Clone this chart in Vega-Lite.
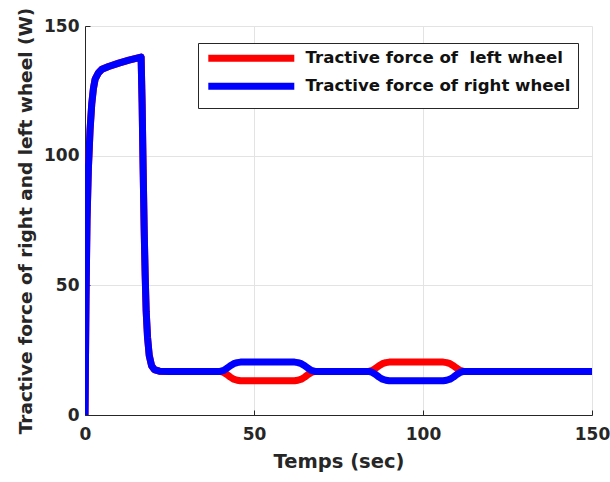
{
  "$schema": "https://vega.github.io/schema/vega-lite/v6.json",
  "width": 507,
  "height": 389,
  "autosize": {"type": "none"},
  "padding": {"left": 85, "top": 26, "right": 18, "bottom": 67},
  "background": "white",
  "config": {
    "view": {"stroke": null},
    "font": "DejaVu Sans",
    "axis": {
      "labelFont": "DejaVu Sans",
      "labelFontWeight": "bold",
      "labelFontSize": 17,
      "labelColor": "#262626",
      "labelFlush": false,
      "titleFont": "DejaVu Sans",
      "titleFontWeight": "bold",
      "titleFontSize": 18,
      "titleColor": "#262626",
      "domainColor": "#262626",
      "domainWidth": 1,
      "tickColor": "#262626",
      "tickSize": -5,
      "gridColor": "#e3e3e3",
      "gridWidth": 1
    }
  },
  "data": {
    "values": [
      {"t": 0, "v": 0, "s": "Tractive force of \u00a0left wheel"},
      {"t": 0.3, "v": 45, "s": "Tractive force of \u00a0left wheel"},
      {"t": 0.6, "v": 75, "s": "Tractive force of \u00a0left wheel"},
      {"t": 1, "v": 95, "s": "Tractive force of \u00a0left wheel"},
      {"t": 1.5, "v": 110, "s": "Tractive force of \u00a0left wheel"},
      {"t": 2, "v": 120, "s": "Tractive force of \u00a0left wheel"},
      {"t": 2.5, "v": 126, "s": "Tractive force of \u00a0left wheel"},
      {"t": 3, "v": 129.5, "s": "Tractive force of \u00a0left wheel"},
      {"t": 4, "v": 132, "s": "Tractive force of \u00a0left wheel"},
      {"t": 5, "v": 133.3, "s": "Tractive force of \u00a0left wheel"},
      {"t": 7, "v": 134.4, "s": "Tractive force of \u00a0left wheel"},
      {"t": 10, "v": 135.7, "s": "Tractive force of \u00a0left wheel"},
      {"t": 13, "v": 136.8, "s": "Tractive force of \u00a0left wheel"},
      {"t": 16, "v": 137.8, "s": "Tractive force of \u00a0left wheel"},
      {"t": 16.6, "v": 138, "s": "Tractive force of \u00a0left wheel"},
      {"t": 16.9, "v": 120, "s": "Tractive force of \u00a0left wheel"},
      {"t": 17.2, "v": 95, "s": "Tractive force of \u00a0left wheel"},
      {"t": 17.5, "v": 72, "s": "Tractive force of \u00a0left wheel"},
      {"t": 17.8, "v": 54, "s": "Tractive force of \u00a0left wheel"},
      {"t": 18.1, "v": 40, "s": "Tractive force of \u00a0left wheel"},
      {"t": 18.5, "v": 30, "s": "Tractive force of \u00a0left wheel"},
      {"t": 19, "v": 23, "s": "Tractive force of \u00a0left wheel"},
      {"t": 19.7, "v": 19, "s": "Tractive force of \u00a0left wheel"},
      {"t": 20.5, "v": 17.5, "s": "Tractive force of \u00a0left wheel"},
      {"t": 22, "v": 16.9, "s": "Tractive force of \u00a0left wheel"},
      {"t": 25, "v": 16.8, "s": "Tractive force of \u00a0left wheel"},
      {"t": 40, "v": 16.8, "s": "Tractive force of \u00a0left wheel"},
      {"t": 41, "v": 16.4, "s": "Tractive force of \u00a0left wheel"},
      {"t": 42, "v": 15.6, "s": "Tractive force of \u00a0left wheel"},
      {"t": 43, "v": 14.6, "s": "Tractive force of \u00a0left wheel"},
      {"t": 44, "v": 13.8, "s": "Tractive force of \u00a0left wheel"},
      {"t": 45, "v": 13.4, "s": "Tractive force of \u00a0left wheel"},
      {"t": 46, "v": 13.2, "s": "Tractive force of \u00a0left wheel"},
      {"t": 62, "v": 13.2, "s": "Tractive force of \u00a0left wheel"},
      {"t": 63, "v": 13.4, "s": "Tractive force of \u00a0left wheel"},
      {"t": 64, "v": 13.8, "s": "Tractive force of \u00a0left wheel"},
      {"t": 65, "v": 14.6, "s": "Tractive force of \u00a0left wheel"},
      {"t": 66, "v": 15.6, "s": "Tractive force of \u00a0left wheel"},
      {"t": 67, "v": 16.4, "s": "Tractive force of \u00a0left wheel"},
      {"t": 68, "v": 16.8, "s": "Tractive force of \u00a0left wheel"},
      {"t": 84, "v": 16.8, "s": "Tractive force of \u00a0left wheel"},
      {"t": 85, "v": 17.2, "s": "Tractive force of \u00a0left wheel"},
      {"t": 86, "v": 18, "s": "Tractive force of \u00a0left wheel"},
      {"t": 87, "v": 19, "s": "Tractive force of \u00a0left wheel"},
      {"t": 88, "v": 19.8, "s": "Tractive force of \u00a0left wheel"},
      {"t": 89, "v": 20.2, "s": "Tractive force of \u00a0left wheel"},
      {"t": 90, "v": 20.4, "s": "Tractive force of \u00a0left wheel"},
      {"t": 106, "v": 20.4, "s": "Tractive force of \u00a0left wheel"},
      {"t": 107, "v": 20.2, "s": "Tractive force of \u00a0left wheel"},
      {"t": 108, "v": 19.8, "s": "Tractive force of \u00a0left wheel"},
      {"t": 109, "v": 19, "s": "Tractive force of \u00a0left wheel"},
      {"t": 110, "v": 18, "s": "Tractive force of \u00a0left wheel"},
      {"t": 111, "v": 17.2, "s": "Tractive force of \u00a0left wheel"},
      {"t": 112, "v": 16.8, "s": "Tractive force of \u00a0left wheel"},
      {"t": 150, "v": 16.8, "s": "Tractive force of \u00a0left wheel"},

      {"t": 0, "v": 0, "s": "Tractive force of right wheel"},
      {"t": 0.3, "v": 45, "s": "Tractive force of right wheel"},
      {"t": 0.6, "v": 75, "s": "Tractive force of right wheel"},
      {"t": 1, "v": 95, "s": "Tractive force of right wheel"},
      {"t": 1.5, "v": 110, "s": "Tractive force of right wheel"},
      {"t": 2, "v": 120, "s": "Tractive force of right wheel"},
      {"t": 2.5, "v": 126, "s": "Tractive force of right wheel"},
      {"t": 3, "v": 129.5, "s": "Tractive force of right wheel"},
      {"t": 4, "v": 132, "s": "Tractive force of right wheel"},
      {"t": 5, "v": 133.3, "s": "Tractive force of right wheel"},
      {"t": 7, "v": 134.4, "s": "Tractive force of right wheel"},
      {"t": 10, "v": 135.7, "s": "Tractive force of right wheel"},
      {"t": 13, "v": 136.8, "s": "Tractive force of right wheel"},
      {"t": 16, "v": 137.8, "s": "Tractive force of right wheel"},
      {"t": 16.6, "v": 138, "s": "Tractive force of right wheel"},
      {"t": 16.9, "v": 120, "s": "Tractive force of right wheel"},
      {"t": 17.2, "v": 95, "s": "Tractive force of right wheel"},
      {"t": 17.5, "v": 72, "s": "Tractive force of right wheel"},
      {"t": 17.8, "v": 54, "s": "Tractive force of right wheel"},
      {"t": 18.1, "v": 40, "s": "Tractive force of right wheel"},
      {"t": 18.5, "v": 30, "s": "Tractive force of right wheel"},
      {"t": 19, "v": 23, "s": "Tractive force of right wheel"},
      {"t": 19.7, "v": 19, "s": "Tractive force of right wheel"},
      {"t": 20.5, "v": 17.5, "s": "Tractive force of right wheel"},
      {"t": 22, "v": 16.9, "s": "Tractive force of right wheel"},
      {"t": 25, "v": 16.8, "s": "Tractive force of right wheel"},
      {"t": 40, "v": 16.8, "s": "Tractive force of right wheel"},
      {"t": 41, "v": 17.2, "s": "Tractive force of right wheel"},
      {"t": 42, "v": 18, "s": "Tractive force of right wheel"},
      {"t": 43, "v": 19, "s": "Tractive force of right wheel"},
      {"t": 44, "v": 19.8, "s": "Tractive force of right wheel"},
      {"t": 45, "v": 20.2, "s": "Tractive force of right wheel"},
      {"t": 46, "v": 20.4, "s": "Tractive force of right wheel"},
      {"t": 62, "v": 20.4, "s": "Tractive force of right wheel"},
      {"t": 63, "v": 20.2, "s": "Tractive force of right wheel"},
      {"t": 64, "v": 19.8, "s": "Tractive force of right wheel"},
      {"t": 65, "v": 19, "s": "Tractive force of right wheel"},
      {"t": 66, "v": 18, "s": "Tractive force of right wheel"},
      {"t": 67, "v": 17.2, "s": "Tractive force of right wheel"},
      {"t": 68, "v": 16.8, "s": "Tractive force of right wheel"},
      {"t": 84, "v": 16.8, "s": "Tractive force of right wheel"},
      {"t": 85, "v": 16.4, "s": "Tractive force of right wheel"},
      {"t": 86, "v": 15.6, "s": "Tractive force of right wheel"},
      {"t": 87, "v": 14.6, "s": "Tractive force of right wheel"},
      {"t": 88, "v": 13.8, "s": "Tractive force of right wheel"},
      {"t": 89, "v": 13.4, "s": "Tractive force of right wheel"},
      {"t": 90, "v": 13.2, "s": "Tractive force of right wheel"},
      {"t": 106, "v": 13.2, "s": "Tractive force of right wheel"},
      {"t": 107, "v": 13.4, "s": "Tractive force of right wheel"},
      {"t": 108, "v": 13.8, "s": "Tractive force of right wheel"},
      {"t": 109, "v": 14.6, "s": "Tractive force of right wheel"},
      {"t": 110, "v": 15.6, "s": "Tractive force of right wheel"},
      {"t": 111, "v": 16.4, "s": "Tractive force of right wheel"},
      {"t": 112, "v": 16.8, "s": "Tractive force of right wheel"},
      {"t": 150, "v": 16.8, "s": "Tractive force of right wheel"}
    ]
  },
  "mark": {"type": "line", "strokeWidth": 7, "strokeJoin": "round", "strokeCap": "round", "clip": true},
  "encoding": {
    "x": {
      "field": "t",
      "type": "quantitative",
      "scale": {"domain": [0, 150], "nice": false, "zero": false},
      "axis": {"values": [0, 50, 100, 150], "title": "Temps (sec)", "labelPadding": 16, "titlePadding": 10, "titleFontSize": 19.5}
    },
    "y": {
      "field": "v",
      "type": "quantitative",
      "scale": {"domain": [0, 150], "nice": false},
      "axis": {"values": [0, 50, 100, 150], "title": "Tractive force of right and left wheel (W)", "labelPadding": 11, "titlePadding": 8, "titleFontSize": 18.5}
    },
    "color": {
      "field": "s",
      "type": "nominal",
      "scale": {
        "domain": ["Tractive force of \u00a0left wheel", "Tractive force of right wheel"],
        "range": ["#ff0000", "#0000ff"]
      },
      "legend": {
        "title": null,
        "orient": "none",
        "legendX": 113,
        "legendY": 17,
        "symbolType": "M-43,0H43",
        "symbolSize": 4,
        "symbolStrokeWidth": 7,
        "symbolOffset": 38,
        "labelFont": "DejaVu Sans",
        "labelFontWeight": "bold",
        "labelFontSize": 16.6,
        "labelColor": "#111111",
        "labelLimit": 400,
        "labelOffset": 46,
        "padding": 7,
        "rowPadding": -1,
        "strokeColor": "#262626",
        "fillColor": "white"
      }
    }
  }
}
